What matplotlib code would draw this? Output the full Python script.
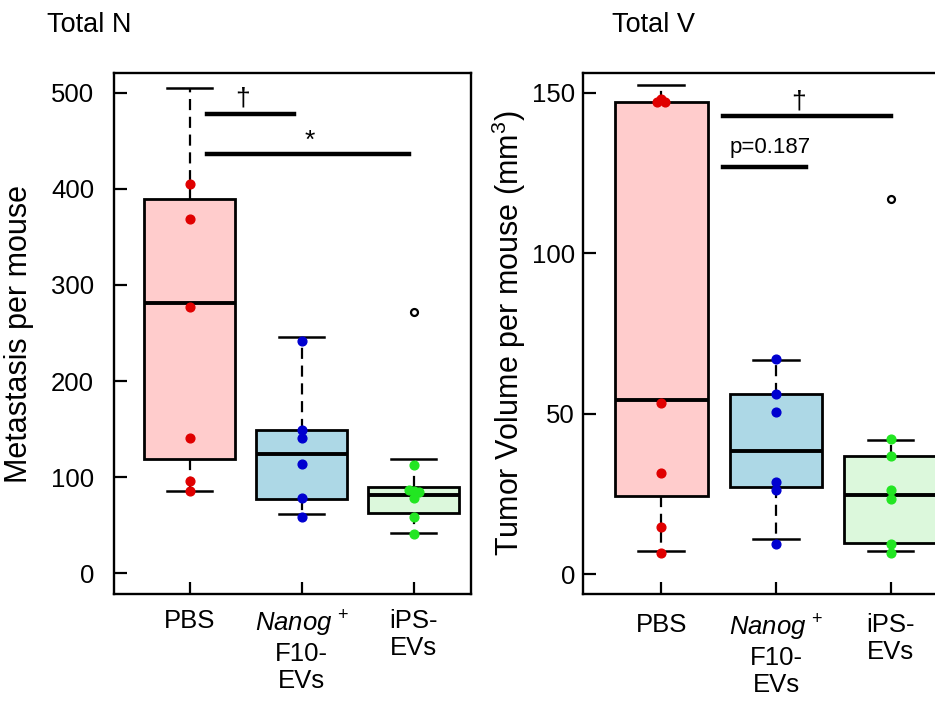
import matplotlib
matplotlib.use("Agg")
import matplotlib.pyplot as plt

plt.rcParams['font.family'] = ['Liberation Sans', 'DejaVu Sans']
plt.rcParams['mathtext.fontset'] = 'custom'
plt.rcParams['mathtext.rm'] = 'Liberation Sans'
plt.rcParams['mathtext.it'] = 'Liberation Sans:italic'

groups = ["PBS", "$\\mathit{Nanog}^{\\,+}$\nF10-\nEVs", "iPS-\nEVs"]
face_colors = ["#ffcccc", "#add8e6", "#dcf8dc"]
dot_colors = ["#e00000", "#0000d0", "#22e622"]

# Total N (metastasis per mouse)
n_whislo = [86, 62, 42]
n_q1 = [119, 77.5, 63]
n_med = [281, 124, 82]
n_q3 = [389, 149.5, 90]
n_whishi = [505, 246, 119]
n_fliers = [[], [], [272]]
n_points = [[405, 369, 277, 141, 96, 86],
            [242, 149, 141, 114, 78, 59],
            [113, 87, 86, 85, 78, 59, 41]]
n_jitter = [[0, 0, 0, 0, 0, 0],
            [0, 0, 0, 0, 0, 0],
            [0, -0.045, 0, 0.045, 0, 0, 0]]

# Total V (tumor volume per mouse)
v_whislo = [7.3, 10.8, 7.1]
v_q1 = [24.2, 27, 9.7]
v_med = [54.1, 38.3, 24.7]
v_q3 = [147.1, 56, 36.7]
v_whishi = [152.3, 66.8, 41.7]
v_fliers = [[], [], [116.8]]
v_points = [[148, 147, 147, 53.3, 31.5, 14.6, 6.6],
            [66.9, 56.2, 50.5, 28.8, 26.1, 9.5],
            [42.2, 36.8, 26.1, 23.4, 9.4, 6.5]]
v_jitter = [[0, -0.035, 0.035, 0, 0, 0, 0],
            [0, 0, 0, 0, 0, 0],
            [0, 0, 0, 0, 0, 0]]


def draw_panel(ax, whislo, q1, med, q3, whishi, fliers, points, jitter):
    stats = []
    for i in range(3):
        stats.append(dict(whislo=whislo[i], q1=q1[i], med=med[i], q3=q3[i],
                          whishi=whishi[i], fliers=fliers[i]))
    bp = ax.bxp(stats, positions=[1, 2, 3], widths=0.81, patch_artist=True,
                boxprops=dict(linewidth=2.0, edgecolor='black'),
                medianprops=dict(linewidth=2.8, color='black'),
                whiskerprops=dict(linewidth=1.6, linestyle=(0, (5, 3)), color='black'),
                capprops=dict(linewidth=1.8, color='black'),
                flierprops=dict(marker='o', markersize=5, markerfacecolor='none',
                                markeredgecolor='black', markeredgewidth=1.6),
                capwidths=0.4)
    for patch, fc in zip(bp['boxes'], face_colors):
        patch.set_facecolor(fc)
    for i in range(3):
        xs = [i + 1 + j for j in jitter[i]]
        ax.plot(xs, points[i], 'o', color=dot_colors[i], markersize=6.3, zorder=5)

    ax.set_xlim(0.32, 3.51)
    for sp in ax.spines.values():
        sp.set_linewidth(1.7)
    ax.tick_params(direction='in', length=9, width=1.6, labelsize=18.5)
    ax.set_xticks([1, 2, 3])
    ax.set_xticklabels(groups, linespacing=1.15)


fig = plt.figure(figsize=(9.35, 7.02), dpi=100)

ax1 = fig.add_axes([0.1214, 0.1544, 0.3824, 0.741])
draw_panel(ax1, n_whislo, n_q1, n_med, n_q3, n_whishi, n_fliers, n_points, n_jitter)
ax1.set_ylim(-21, 520)
ax1.set_yticks([0, 100, 200, 300, 400, 500])
ax1.tick_params(axis='y', pad=14)
ax1.tick_params(axis='x', pad=11)
ax1.set_ylabel("Metastasis per mouse", fontsize=22)
ax1.yaxis.set_label_coords(-0.222, 0.5)
# significance marks
ax1.plot([1.15, 1.93], [478, 478], color='black', linewidth=3.2)
ax1.text(1.47, 481, "\u2020", ha='center', va='bottom', fontsize=19)
ax1.plot([1.15, 2.96], [436, 436], color='black', linewidth=3.2)
ax1.text(2.07, 437, "*", ha='center', va='bottom', fontsize=19)

ax2 = fig.add_axes([0.624, 0.1543, 0.391, 0.7416])
draw_panel(ax2, v_whislo, v_q1, v_med, v_q3, v_whishi, v_fliers, v_points, v_jitter)
ax2.set_ylim(-6.1, 156.1)
ax2.set_yticks([0, 50, 100, 150])
ax2.tick_params(axis='y', pad=6)
ax2.tick_params(axis='x', pad=14)
ax2.set_ylabel("Tumor Volume per mouse (mm$^3$)", fontsize=22)
ax2.yaxis.set_label_coords(-0.152, 0.5)
ax2.plot([1.54, 3.0], [142.8, 142.8], color='black', linewidth=3.2)
ax2.text(2.2, 143.5, "\u2020", ha='center', va='bottom', fontsize=19)
ax2.plot([1.54, 2.26], [126.9, 126.9], color='black', linewidth=3.2)
ax2.text(1.945, 132.8, "p=0.187", ha='center', va='center', fontsize=16)

fig.text(0.05, 0.955, "Total N", fontsize=19.5, va='baseline')
fig.text(0.6545, 0.955, "Total V", fontsize=19.5, va='baseline')

fig.savefig("out.png", dpi=100)
